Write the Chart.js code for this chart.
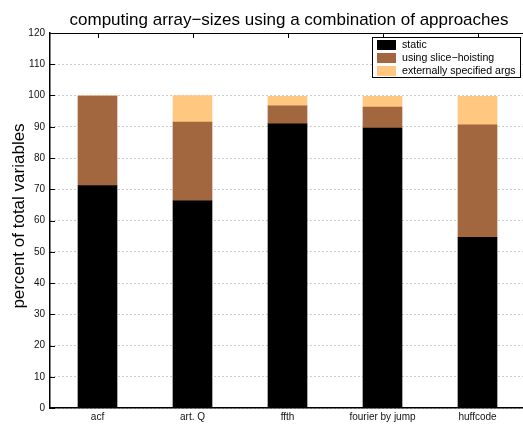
<!DOCTYPE html>
<html>
<head>
<meta charset="utf-8">
<script src="https://cdn.jsdelivr.net/npm/chart.js@4"></script>
<style>
  html, body { margin: 0; padding: 0; background: #fff; overflow: hidden; }
  #wrap { position: relative; width: 526px; height: 424px; }
</style>
</head>
<body>
<div id="wrap"><canvas id="chart" width="526" height="424"></canvas></div>
<script>
const categories = ['acf', 'art. Q', 'ffth', 'fourier by jump', 'huffcode'];
const staticVals = [71.2, 66.3, 90.9, 89.6, 54.6];
const hoistVals = [28.6, 25.2, 5.8, 6.7, 36.0];
const externVals = [0.2, 8.5, 3.0, 3.4, 9.1];
const yTicks = { min: 0, max: 120, step: 10 };
const chartTitle = 'computing array\u2212sizes using a combination of approaches';
const yTitle = 'percent of total variables';

const seriesNames = ['static', 'using slice\u2212hoisting', 'externally specified args'];
const seriesColors = ['#000000', '#A2673F', '#FFC780'];

const FONT = 'Liberation Sans, Arial, Helvetica, sans-serif';

// frame, inward ticks, title and legend drawn in matlab style
const matlabLook = {
  id: 'matlabLook',
  afterDatasetsDraw(chart) {
    const ctx = chart.ctx;
    const a = chart.chartArea;
    const x = chart.scales.x;
    const y = chart.scales.y;
    ctx.save();
    ctx.strokeStyle = '#000';
    ctx.lineWidth = 1;
    // top frame line
    ctx.beginPath();
    ctx.moveTo(a.left, a.top + 0.5);
    ctx.lineTo(a.right, a.top + 0.5);
    ctx.stroke();
    // y ticks inward
    ctx.beginPath();
    y.ticks.forEach((t) => {
      const py = Math.round(y.getPixelForValue(t.value)) + 0.5;
      ctx.moveTo(a.left, py);
      ctx.lineTo(a.left + 5, py);
    });
    // x ticks inward top and bottom
    categories.forEach((c, i) => {
      const px = Math.round(x.getPixelForValue(i)) + 0.5;
      ctx.moveTo(px, a.top);
      ctx.lineTo(px, a.top + 5);
      ctx.moveTo(px, a.bottom);
      ctx.lineTo(px, a.bottom - 5);
    });
    ctx.stroke();
    ctx.restore();
  },
  afterDraw(chart) {
    const ctx = chart.ctx;
    const a = chart.chartArea;
    ctx.save();
    // title
    ctx.fillStyle = '#000';
    ctx.font = '17px ' + FONT;
    ctx.textAlign = 'center';
    ctx.textBaseline = 'alphabetic';
    ctx.fillText(chartTitle, (a.left + a.right) / 2 + 1.5, 24.5);
    // y title
    ctx.textBaseline = 'middle';
    ctx.translate(19.5, 216);
    ctx.rotate(-Math.PI / 2);
    ctx.fillText(yTitle, 0, 0);
    ctx.restore();

    // legend box
    ctx.save();
    const lx = 372, ly = 37, lw = 148, lh = 40;
    ctx.fillStyle = '#fff';
    ctx.fillRect(lx, ly, lw, lh);
    ctx.strokeStyle = '#000';
    ctx.lineWidth = 1;
    ctx.strokeRect(lx + 0.5, ly + 0.5, lw, lh);
    ctx.font = '10.6px ' + FONT;
    ctx.textAlign = 'left';
    ctx.textBaseline = 'middle';
    chart.data.datasets.forEach((ds, i) => {
      const ry = ly + 3 + i * 13;
      ctx.fillStyle = ds.backgroundColor;
      ctx.fillRect(lx + 5, ry, 19, 10);
      ctx.fillStyle = '#000';
      ctx.fillText(ds.label, lx + 30, ry + 5.5);
    });
    ctx.restore();
  }
};

new Chart(document.getElementById('chart'), {
  type: 'bar',
  data: {
    labels: categories,
    datasets: [
      { label: seriesNames[0], data: staticVals, backgroundColor: seriesColors[0] },
      { label: seriesNames[1], data: hoistVals, backgroundColor: seriesColors[1] },
      { label: seriesNames[2], data: externVals, backgroundColor: seriesColors[2] }
    ]
  },
  options: {
    responsive: false,
    animation: false,
    devicePixelRatio: 1,
    layout: { padding: { top: 33, left: 0, right: 1, bottom: 0 } },
    plugins: {
      legend: { display: false },
      tooltip: { enabled: false }
    },
    datasets: { bar: { barThickness: 39, borderWidth: 0 } },
    scales: {
      x: {
        stacked: true,
        grid: { display: false, drawTicks: false },
        border: { display: true, color: '#000', width: 1.5 },
        ticks: {
          color: '#111',
          font: { family: FONT, size: 10 },
          padding: 3,
          maxRotation: 0,
          autoSkip: false
        },
        afterFit(scale) { scale.height = 16; }
      },
      y: {
        stacked: true,
        min: yTicks.min,
        max: yTicks.max,
        ticks: {
          stepSize: yTicks.step,
          color: '#111',
          font: { family: FONT, size: 10 },
          padding: 5
        },
        grid: { color: '#9a9a9a', lineWidth: 1, drawTicks: false },
        border: { display: true, color: '#000', width: 1.5, dash: [1, 3] },
        afterFit(scale) { scale.width = 50; }
      }
    }
  },
  plugins: [matlabLook]
});
</script>
</body>
</html>
